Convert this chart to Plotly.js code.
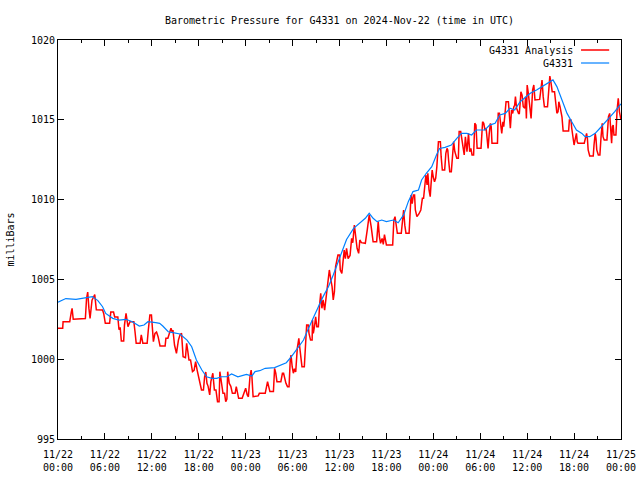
<!DOCTYPE html>
<html>
<head>
<meta charset="utf-8">
<script src="https://cdn.plot.ly/plotly-3.0.1.min.js"></script>
<style>
html,body{margin:0;padding:0;background:#fff;}
#chart{width:640px;height:480px;}
</style>
</head>
<body>
<div id="chart"></div>
<script>
// Hours since 2024-11-22 00:00 UTC
const tickHours = [0, 6, 12, 18, 24, 30, 36, 42, 48, 54, 60, 66, 72];
const tickLabels = ["11/22<br>00:00","11/22<br>06:00","11/22<br>12:00","11/22<br>18:00",
  "11/23<br>00:00","11/23<br>06:00","11/23<br>12:00","11/23<br>18:00",
  "11/24<br>00:00","11/24<br>06:00","11/24<br>12:00","11/24<br>18:00","11/25<br>00:00"];

const analysisHours = [0.0,0.6,0.65,1.5,1.7,1.8,1.95,3.5,3.65,3.8,3.95,4.1,4.35,4.7,4.9,5.7,5.85,6.05,6.6,6.75,7.1,7.25,7.65,7.8,7.95,8.1,8.4,8.5,8.7,8.95,9.2,9.7,9.85,10.0,10.5,10.65,10.85,11.4,11.55,11.75,11.95,12.1,12.2,12.4,12.6,12.8,13.05,13.7,13.8,14.05,14.45,14.6,14.7,14.9,15.15,15.4,15.6,15.8,16.0,16.3,16.45,16.6,16.75,16.95,17.2,17.4,17.6,17.8,18.1,18.35,18.6,18.75,18.9,19.05,19.2,19.4,19.55,19.8,20.0,20.2,20.4,20.6,20.7,20.9,21.1,21.3,21.45,21.6,21.7,21.9,22.1,22.3,22.65,22.8,22.95,23.1,23.55,23.75,24.0,24.2,24.35,24.55,24.7,24.8,24.95,25.6,25.75,26.5,26.65,26.8,26.95,27.1,27.55,27.7,27.85,28.0,28.5,28.7,28.85,29.0,29.15,29.35,29.55,29.7,29.8,29.95,30.1,30.25,30.4,30.6,30.8,30.9,31.0,31.2,31.5,31.65,31.8,32.0,32.1,32.3,32.5,32.55,32.65,32.8,32.95,33.1,33.3,33.45,33.6,33.75,33.9,34.1,34.3,34.5,34.7,34.9,35.05,35.2,35.35,35.5,35.65,35.8,36.0,36.1,36.3,36.45,36.6,36.75,36.9,37.1,37.35,37.55,37.7,37.9,38.05,38.25,38.45,38.6,38.8,39.3,39.55,39.8,40.05,40.3,40.75,40.95,41.1,41.25,41.45,41.6,41.75,41.9,42.0,42.8,42.95,43.1,43.25,43.4,43.9,44.05,44.2,44.35,44.5,44.9,45.0,45.15,45.3,45.45,45.6,45.7,45.9,46.15,46.4,46.6,46.75,46.9,47.05,47.2,47.3,47.45,47.6,47.7,47.85,48.0,48.15,48.3,48.45,48.65,48.9,49.0,49.15,49.45,49.6,49.75,49.85,49.95,50.1,50.3,50.45,50.6,50.75,50.85,51.0,51.2,51.3,51.5,51.6,51.8,51.95,52.1,52.3,52.5,52.65,52.8,52.95,53.15,53.3,53.45,53.6,54.1,54.3,54.45,54.6,54.75,54.9,55.0,55.15,55.3,55.4,55.5,56.2,56.3,56.45,56.6,56.75,56.9,57.0,57.15,57.3,57.6,57.7,57.85,58.0,58.15,58.3,58.4,58.5,58.65,58.9,59.0,59.1,59.2,59.35,59.5,59.7,59.8,59.9,60.0,60.15,60.4,60.5,60.7,60.85,61.0,61.6,61.75,61.9,62.05,62.2,62.6,62.75,62.9,63.05,63.2,63.5,63.65,63.8,63.95,64.05,64.2,64.35,64.45,64.6,65.3,65.4,65.6,65.7,65.85,66.0,66.15,66.3,66.4,66.5,67.3,67.45,67.6,67.7,67.8,68.0,68.45,68.55,68.7,68.8,68.9,69.1,69.3,69.45,69.6,69.7,69.85,70.2,70.3,70.4,70.55,70.7,70.8,70.9,71.0,71.1,71.35,71.5,71.65,71.8,72.0];
const analysisValues = [1001.94,1001.94,1002.35,1002.35,1002.95,1003.19,1002.5,1002.55,1003.8,1004.2,1003.2,1002.55,1003.7,1004.05,1003.1,1003.08,1002.85,1002.25,1002.25,1002.95,1002.95,1002.65,1002.65,1001.85,1002.0,1001.14,1001.14,1002.14,1002.87,1002.04,1002.35,1002.35,1001.72,1001.0,1001.0,1001.52,1001.0,1001.0,1001.83,1002.77,1002.77,1001.52,1001.1,1001.62,1001.7,1001.41,1000.83,1000.83,1001.31,1001.31,1001.94,1001.72,1001.83,1000.89,1000.37,1001.2,1001.52,1001.62,1000.16,1000.1,1001.0,1000.5,999.95,999.95,999.22,999.3,999.84,999.3,998.7,998.07,998.07,998.9,999.2,998.49,998.3,997.76,998.59,999.12,998.07,998.07,997.34,997.34,999.22,998.59,997.86,997.86,997.34,997.5,999.22,998.49,998.3,997.86,997.86,998.28,997.86,997.55,997.55,997.86,998.18,997.76,997.65,998.9,999.32,998.9,997.65,997.7,997.86,997.86,998.28,998.59,998.28,997.97,997.97,999.43,999.12,998.59,998.59,999.12,999.12,998.7,998.49,998.28,998.28,999.95,1000.26,999.53,999.12,999.4,999.2,1000.68,1001.31,1000.8,1000.37,999.53,999.53,1000.58,1002.14,1002.14,1001.62,1001.2,1001.2,1002.46,1001.62,1002.04,1002.66,1002.04,1002.04,1003.39,1004.13,1003.19,1003.71,1003.08,1003.92,1004.65,1005.59,1004.96,1004.55,1003.71,1004.23,1005.8,1006.22,1006.53,1006.53,1005.59,1005.38,1006.0,1006.84,1006.3,1006.95,1006.3,1006.5,1007.57,1007.3,1008.41,1007.9,1006.95,1006.63,1007.47,1007.3,1007.26,1008.1,1009.04,1008.3,1007.36,1007.36,1008.62,1007.7,1007.26,1007.57,1007.2,1007.8,1007.3,1007.16,1007.16,1008.72,1008.93,1008.3,1007.89,1007.89,1008.72,1009.35,1008.4,1007.89,1007.89,1009.35,1010.29,1009.75,1010.29,1010.29,1009.35,1008.93,1009.1,1009.35,1010.08,1010.08,1010.92,1011.54,1010.92,1011.65,1010.6,1010.18,1010.92,1011.85,1011.4,1011.12,1011.33,1012.06,1013.63,1013.63,1012.69,1011.85,1011.85,1012.9,1013.21,1013.1,1012.48,1011.75,1011.75,1012.69,1013.63,1013.0,1012.8,1012.59,1012.59,1014.26,1014.26,1013.94,1013.0,1012.8,1013.94,1013.0,1014.15,1013.0,1013.21,1012.8,1012.8,1014.78,1014.68,1013.21,1013.21,1014.88,1014.78,1014.36,1014.47,1013.73,1013.21,1014.15,1014.78,1014.57,1013.53,1013.53,1015.41,1015.41,1014.57,1014.15,1014.88,1014.57,1015.3,1016.13,1016.13,1015.3,1014.47,1015.61,1015.4,1015.82,1015.9,1016.45,1015.72,1015.4,1015.4,1016.03,1016.76,1016.55,1015.82,1015.72,1016.45,1015.09,1017.18,1016.66,1015.66,1015.09,1016.87,1017.18,1016.24,1016.28,1016.87,1017.49,1016.45,1015.82,1015.82,1017.18,1017.74,1017.31,1016.76,1016.76,1016.24,1015.41,1015.5,1016.13,1015.82,1015.41,1015.19,1014.3,1014.3,1014.99,1014.99,1014.47,1013.94,1013.42,1013.8,1014.15,1013.63,1013.53,1013.53,1013.94,1014.15,1013.84,1013.11,1012.73,1012.73,1013.42,1014.15,1013.84,1013.11,1012.8,1012.8,1013.94,1014.78,1013.94,1013.73,1013.73,1014.57,1015.19,1015.4,1014.15,1013.53,1014.57,1014.67,1014.05,1014.05,1015.61,1016.35,1015.5,1015.0];

const stationHours = [0,1,2.3,3.6,4.4,5.1,5.7,6.1,7.0,7.8,8.7,9.5,10.4,11.0,11.5,12.5,13.0,13.4,14.1,14.7,15.6,16.5,17.1,17.7,18.4,19.0,19.7,20.3,20.9,21.6,22.2,23.0,24.1,24.8,25.2,25.8,26.5,27.7,28.4,29.2,29.9,30.7,31.4,32.0,32.6,33.3,33.9,34.6,35.2,35.8,36.4,36.9,37.8,38.6,39.3,39.8,40.3,40.8,41.4,42.0,42.9,43.5,44.2,44.8,45.4,46.1,46.5,47.1,47.8,48.4,48.8,49.5,50.3,51.0,51.6,52.3,52.9,53.5,54.6,55.2,55.9,56.5,57.2,57.8,58.4,59.1,59.7,60.4,61.2,62.3,62.9,63.3,63.8,64.2,64.6,65.1,65.7,66.3,67.0,67.4,68.0,68.7,69.3,69.9,70.6,71.2,71.7,72.0];
const stationValues = [1003.57,1003.8,1003.75,1003.88,1003.92,1003.67,1003.29,1002.87,1002.56,1002.45,1002.5,1002.35,1002.08,1002.14,1002.35,1002.29,1002.25,1002.08,1001.72,1001.66,1001.58,1001.2,1000.78,999.95,999.32,998.9,998.8,998.8,998.9,998.9,999.07,998.9,999.05,998.95,999.22,999.28,999.43,999.47,999.6,999.78,1000.2,1000.7,1001.2,1001.9,1002.5,1003.29,1003.92,1004.55,1005.28,1006.1,1006.9,1007.5,1008.2,1008.51,1008.83,1009.14,1008.83,1008.62,1008.72,1008.62,1008.72,1008.55,1009.04,1009.87,1010.5,1010.6,1011.23,1011.65,1012.06,1012.8,1013.2,1013.27,1013.42,1013.84,1014.15,1014.15,1014.05,1014.36,1014.36,1014.67,1014.78,1015.3,1015.4,1015.72,1015.61,1016.13,1016.35,1016.66,1016.87,1017.18,1017.39,1017.5,1017.08,1016.55,1016.03,1015.4,1014.88,1014.36,1014.15,1013.94,1013.94,1014.15,1014.47,1014.78,1015.19,1015.51,1015.82,1016.0];

const seriesNames = ["G4331 Analysis", "G4331"];
const seriesColors = ["#ff0000", "#0080ff"];

const FONT = "DejaVu Sans Mono, monospace";

const traces = [
  {x: analysisHours, y: analysisValues, type: "scatter", mode: "lines", name: seriesNames[0],
   line: {color: seriesColors[0], width: 1.5}, showlegend: false},
  {x: stationHours, y: stationValues, type: "scatter", mode: "lines", name: seriesNames[1],
   line: {color: seriesColors[1], width: 1.2}, showlegend: false}
];

const layout = {
  width: 640, height: 480,
  margin: {l: 58, r: 19, t: 40, b: 41},
  paper_bgcolor: "#fff", plot_bgcolor: "#fff",
  font: {family: FONT, size: 10, color: "#000"},
  title: {text: "Barometric Pressure for G4331 on 2024-Nov-22 (time in UTC)",
          x: 0.5, xref: "paper", xanchor: "center", y: 1 - 20/480, yref: "container", yanchor: "middle",
          font: {family: FONT, size: 10, color: "#000"}},
  xaxis: {range: [0, 72], tickmode: "array", tickvals: tickHours, ticktext: tickLabels,
          ticks: "inside", ticklen: 6, tickwidth: 1, tickcolor: "#000",
          ticklabelstandoff: 6,
          showline: true, linecolor: "#000", linewidth: 1, mirror: "ticks",
          showgrid: false, zeroline: false,
          minor: {dtick: 3, tick0: 0, ticks: "inside", ticklen: 3, tickcolor: "#000", showgrid: false},
          tickfont: {family: FONT, size: 10, color: "#000"}},
  yaxis: {range: [995, 1020], tickvals: [995, 1000, 1005, 1010, 1015, 1020],
          tickmode: "array",
          ticks: "inside", ticklen: 6, tickwidth: 1, tickcolor: "#000",
          showline: true, linecolor: "#000", linewidth: 1, mirror: "ticks",
          showgrid: false, zeroline: false,
          tickfont: {family: FONT, size: 10, color: "#000"},
          title: {text: "milliBars", font: {family: FONT, size: 10, color: "#000"}, standoff: 14}},
  annotations: [
    {xref: "paper", yref: "paper", x: 0.918, y: 1 - 10/399, xanchor: "right", yanchor: "middle",
     text: seriesNames[0], showarrow: false, font: {family: FONT, size: 10, color: "#000"}},
    {xref: "paper", yref: "paper", x: 0.918, y: 1 - 23/399, xanchor: "right", yanchor: "middle",
     text: seriesNames[1], showarrow: false, font: {family: FONT, size: 10, color: "#000"}}
  ],
  shapes: [
    {type: "line", xref: "paper", yref: "paper", x0: 0.929, x1: 0.979, y0: 1 - 10/399, y1: 1 - 10/399,
     line: {color: seriesColors[0], width: 1.5}},
    {type: "line", xref: "paper", yref: "paper", x0: 0.929, x1: 0.979, y0: 1 - 23/399, y1: 1 - 23/399,
     line: {color: seriesColors[1], width: 1.2}}
  ]
};

Plotly.newPlot("chart", traces, layout, {staticPlot: true, displayModeBar: false});
</script>
</body>
</html>
